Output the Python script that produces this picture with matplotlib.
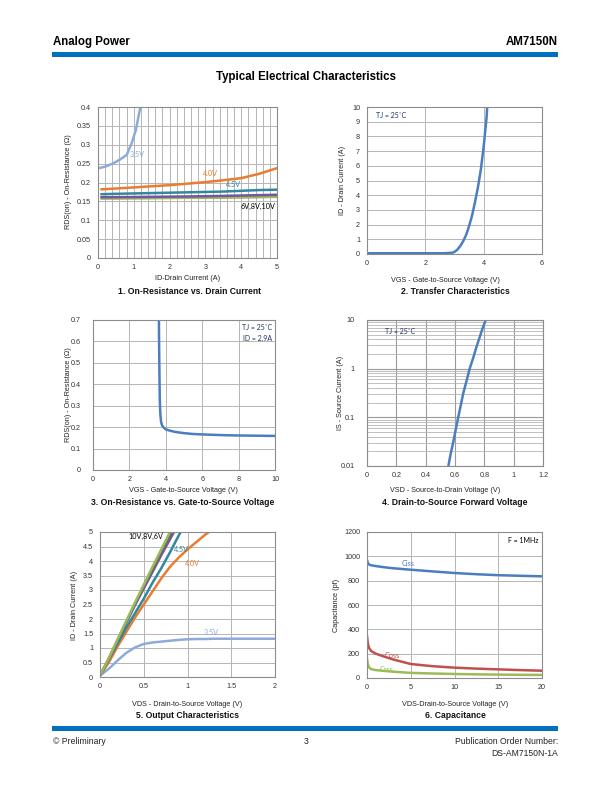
import matplotlib
matplotlib.use("Agg")
import matplotlib.pyplot as plt
from matplotlib.patches import Rectangle
from matplotlib.ticker import MultipleLocator, FixedLocator, LogLocator, NullFormatter

plt.rcParams['font.family'] = ['Liberation Sans', 'DejaVu Sans']

W, H = 612, 792
fig = plt.figure(figsize=(W / 100, H / 100), dpi=100)

BLUE = '#0070c0'
C35 = '#8eaadb'
C40 = '#e97c30'
C45 = '#31879e'
C6 = '#7356a0'
C8 = '#9bbb59'
C10 = '#a0522d'
CMAIN = '#4a7ebf'
NAVY = '#1f3864'

# ---------------- data ----------------
# 1. On-resistance vs drain current
ch1_id = [0.1, 0.5, 1, 1.5, 2, 2.5, 3, 3.5, 4, 4.5, 5]
ch1_id35 = [0.02, 0.2, 0.43, 0.6, 0.8, 0.94, 1.06, 1.15, 1.2]
ch1_r35 = [0.238, 0.242, 0.251, 0.260, 0.273, 0.304, 0.340, 0.384, 0.405]
ch1_r40 = [0.182, 0.184, 0.187, 0.190, 0.193, 0.197, 0.201, 0.206, 0.2115, 0.223, 0.238]
ch1_r45 = [0.169, 0.170, 0.171, 0.172, 0.173, 0.174, 0.175, 0.176, 0.178, 0.180, 0.181]
ch1_r6 = [0.161, 0.1612, 0.1615, 0.162, 0.1625, 0.163, 0.1637, 0.1645, 0.1655, 0.1665, 0.1675]
ch1_r8 = [0.158, 0.1582, 0.1585, 0.1588, 0.159, 0.1595, 0.160, 0.1605, 0.161, 0.1615, 0.162]
ch1_r10 = [0.157, 0.1572, 0.1575, 0.1578, 0.158, 0.1585, 0.159, 0.1595, 0.160, 0.1605, 0.161]

# 2. Transfer characteristics
ch2_vgs = [0, 1, 2, 2.6, 2.9, 3.0, 3.1, 3.2, 3.3, 3.4, 3.5, 3.6, 3.7, 3.8, 3.9, 4.0, 4.1, 4.13]
ch2_id = [0.05, 0.05, 0.05, 0.05, 0.08, 0.14, 0.3, 0.55, 0.88, 1.3, 1.9, 2.6, 3.5, 4.5, 5.7, 7.3, 9.3, 10.3]

# 3. On-resistance vs gate-to-source voltage
ch3_vgs = [3.62, 3.63, 3.65, 3.67, 3.70, 3.74, 3.8, 3.9, 4.0, 4.2, 4.5, 5, 5.5, 6, 7, 8, 9, 10]
ch3_r = [0.72, 0.60, 0.45, 0.33, 0.26, 0.225, 0.207, 0.197, 0.190, 0.184, 0.178, 0.172, 0.168, 0.166, 0.163, 0.161, 0.160, 0.159]

# 4. Drain-to-source forward voltage
ch4_vsd = [0.552, 0.57, 0.588, 0.605, 0.622, 0.64, 0.656, 0.68, 0.70, 0.725, 0.747, 0.77, 0.792, 0.81, 0.816]
ch4_is = [0.009, 0.0175, 0.031, 0.056, 0.1, 0.18, 0.31, 0.58, 1.0, 1.7, 2.83, 4.6, 7.3, 10, 11]

# 5. Output characteristics
ch5_vds = [0, 0.1, 0.2, 0.3, 0.4, 0.5, 0.6, 0.7, 0.8, 0.9, 1.0, 1.1, 1.2, 1.3, 1.5, 1.75, 2.0]
ch5_i35 = [0.05, 0.28, 0.57, 0.83, 1.02, 1.14, 1.19, 1.22, 1.25, 1.28, 1.30, 1.31, 1.31, 1.32, 1.32, 1.32, 1.32]
ch5_i40 = [0.05, 0.50, 1.05, 1.55, 2.05, 2.50, 2.95, 3.40, 3.80, 4.12, 4.40, 4.65, 4.90, 5.12, 5.5, 5.9, 6.2]
ch5_vds_hi = [0, 0.1, 0.2, 0.3, 0.4, 0.5, 0.6, 0.7, 0.8, 0.9, 1.0]
ch5_i45 = [0.05, 0.60, 1.15, 1.70, 2.20, 2.70, 3.25, 3.75, 4.30, 4.88, 5.4]
ch5_i6 = [0.05, 0.62, 1.25, 1.87, 2.48, 3.05, 3.62, 4.20, 4.75, 5.3, 5.8]
ch5_i8 = [0.05, 0.63, 1.27, 1.90, 2.52, 3.12, 3.72, 4.30, 4.87, 5.4, 5.9]
ch5_i10 = [0.05, 0.64, 1.29, 1.93, 2.57, 3.18, 3.80, 4.40, 5.00, 5.6, 6.1]

# 6. Capacitance
ch6_vds = [0, 0.1, 0.25, 0.5, 1, 2, 3, 5, 7.5, 10, 12.5, 15, 17.5, 20]
ch6_ciss = [970, 945, 932, 926, 920, 910, 902, 890, 876, 863, 853, 845, 840, 836]
ch6_coss = [345, 280, 245, 220, 200, 175, 152, 115, 97, 85, 77, 71, 65, 60]
ch6_crss = [160, 110, 85, 72, 65, 58, 52, 42, 37, 33, 30, 28, 26, 25]


# ---------------- helpers ----------------
def ax_at(l, t, r, b):
    return fig.add_axes([l / W, 1 - b / H, (r - l) / W, (b - t) / H])


def ftext(x, y, s, **kw):
    kw.setdefault('va', 'center')
    fig.text(x / W, 1 - y / H, s, **kw)


def style(ax, xlim, ylim, xmaj, ymaj, xfmt=None, yfmt=None, ypad=5):
    ax.set_xlim(*xlim)
    ax.set_ylim(*ylim)
    if xmaj is not None:
        ax.xaxis.set_major_locator(MultipleLocator(xmaj))
    if ymaj is not None:
        ax.yaxis.set_major_locator(MultipleLocator(ymaj))
    ax.tick_params(length=0, labelsize=5.2, colors='#333333')
    ax.tick_params(axis='y', pad=ypad)
    ax.tick_params(axis='x', pad=4)
    ax.grid(True, which='major', color='#b5b5b5', lw=0.7)
    ax.set_axisbelow(True)
    for s in ax.spines.values():
        s.set_color('#8c8c8c')
        s.set_linewidth(0.8)
    if xfmt:
        ax.xaxis.set_major_formatter(xfmt)
    if yfmt:
        ax.yaxis.set_major_formatter(yfmt)


def fmt_g(v, p):
    return ('%g' % round(v, 4))


LW = 1.8
cap_kw = dict(fontsize=6.2, fontweight='bold', ha='center', color='#111111')
lab_kw = dict(fontsize=5.2, ha='center', color='#222222')

# ---------------- header / footer ----------------
fig.patches.append(Rectangle((52 / W, 1 - 57 / H), (558 - 52) / W, 4.5 / H,
                             transform=fig.transFigure, color=BLUE, lw=0))
fig.patches.append(Rectangle((52 / W, 1 - 731 / H), (558 - 52) / W, 5 / H,
                             transform=fig.transFigure, color=BLUE, lw=0))
ftext(53, 42, 'Analog Power', fontsize=8.3, fontweight='bold', ha='left')
ftext(558, 42, 'AM7150N', fontsize=8.3, fontweight='bold', ha='right')
ftext(306, 77, 'Typical Electrical Characteristics', fontsize=8.3, fontweight='bold', ha='center')
ftext(53, 741, '\u00a9 Preliminary', fontsize=6.2, ha='left', color='#222222')
ftext(306, 741, '3', fontsize=6.2, ha='center', color='#222222')
ftext(558, 741, 'Publication Order Number:', fontsize=6.2, ha='right', color='#222222')
ftext(558, 753, 'DS-AM7150N-1A', fontsize=6.2, ha='right', color='#222222')

# ---------------- chart 1 ----------------
ax1 = ax_at(98, 107, 277, 258)
style(ax1, (0, 5), (0, 0.4), 1, 0.05, yfmt=fmt_g)
ax1.xaxis.set_minor_locator(MultipleLocator(0.2))
ax1.grid(True, which='minor', axis='x', color='#b5b5b5', lw=0.7)
ax1.tick_params(which='minor', length=0)
ax1.plot(ch1_id35, ch1_r35, color=C35, lw=LW, solid_capstyle='butt')
ax1.plot(ch1_id, ch1_r40, color=C40, lw=LW)
ax1.plot(ch1_id, ch1_r45, color=C45, lw=LW)
ax1.plot(ch1_id, ch1_r10, color=C10, lw=1.0)
ax1.plot(ch1_id, ch1_r8, color=C8, lw=LW)
ax1.plot(ch1_id, ch1_r6, color=C6, lw=LW)
ax1.text(0.88, 0.268, '3.5V', color=C35, fontsize=5.2, family='Lato')
ax1.text(2.92, 0.218, '4.0V', color=C40, fontsize=5.2, family='Lato')
ax1.text(3.57, 0.188, '4.5V', color=C45, fontsize=5.2, family='Lato')
ax1.text(3.97, 0.130, '6V,8V,10V', color='black', fontsize=5.2, family='Lato')
ftext(188, 278, 'ID-Drain Current (A)', **lab_kw)
ftext(68, 182, 'RDS(on) - On-Resistance (\u03a9)', rotation=90, **lab_kw)
ftext(189, 291, '1. On-Resistance vs. Drain Current', **cap_kw)

# ---------------- chart 2 ----------------
ax2 = ax_at(367, 107, 542, 254)
style(ax2, (0, 6), (0, 10), 2, 1)
ax2.plot(ch2_vgs, ch2_id, color=CMAIN, lw=LW)
ax2.text(0.3, 9.4, 'TJ = 25\u02daC', color=NAVY, fontsize=5.0, family='Lato', va='center')
ftext(445, 280, 'VGS - Gate-to-Source Voltage (V)', **lab_kw)
ftext(343, 180, 'ID - Drain Current (A)', rotation=90, **lab_kw)
ftext(455, 291, '2. Transfer Characteristics', **cap_kw)

# ---------------- chart 3 ----------------
ax3 = ax_at(93, 320, 275, 470)
style(ax3, (0, 10), (0, 0.7), 2, 0.1, yfmt=fmt_g, ypad=9)
ax3.plot(ch3_vgs, ch3_r, color=CMAIN, lw=LW)
ax3.text(9.85, 0.664, 'TJ = 25\u02daC', color=NAVY, fontsize=5.0, family='Lato', ha='right', va='center')
ax3.text(9.85, 0.614, 'ID = 2.9A', color=NAVY, fontsize=5.0, family='Lato', ha='right', va='center')
ftext(183, 491, 'VGS - Gate-to-Source Voltage (V)', **lab_kw)
ftext(68, 395, 'RDS(on) - On-Resistance (\u03a9)', rotation=90, **lab_kw)
ftext(183, 503, '3. On-Resistance vs. Gate-to-Source Voltage', **cap_kw)

# ---------------- chart 4 ----------------
ax4 = ax_at(367, 320, 543, 466)
style(ax4, (0, 1.2), (0.01, 10), 0.2, None, xfmt=fmt_g, ypad=9)
ax4.set_yscale('log')
ax4.set_ylim(0.01, 10)
ax4.yaxis.set_major_locator(FixedLocator([0.01, 0.1, 1, 10]))
ax4.yaxis.set_major_formatter(fmt_g)
ax4.yaxis.set_minor_locator(LogLocator(base=10, subs=range(2, 10)))
ax4.yaxis.set_minor_formatter(NullFormatter())
ax4.grid(True, which='major', color='#9a9a9a', lw=0.8)
ax4.grid(True, which='minor', axis='y', color='#b5b5b5', lw=0.6)
ax4.tick_params(which='both', length=0)
ax4.plot(ch4_vsd, ch4_is, color=CMAIN, lw=LW)
ax4.text(0.12, 5.8, 'TJ = 25\u02daC', color=NAVY, fontsize=5.0, family='Lato', va='center')
ftext(445, 491, 'VSD - Source-to-Drain Voltage (V)', **lab_kw)
ftext(341, 393, 'IS - Source Current (A)', rotation=90, **lab_kw)
ftext(455, 503, '4. Drain-to-Source Forward Voltage', **cap_kw)

# ---------------- chart 5 ----------------
ax5 = ax_at(100, 532, 275, 677)
style(ax5, (0, 2), (0, 5), 0.5, 0.5, xfmt=fmt_g, yfmt=fmt_g)
ax5.plot(ch5_vds, ch5_i35, color=C35, lw=LW)
ax5.plot(ch5_vds, ch5_i40, color=C40, lw=LW)
ax5.plot(ch5_vds_hi, ch5_i45, color=C45, lw=LW)
ax5.plot(ch5_vds_hi, ch5_i6, color=C6, lw=LW)
ax5.plot(ch5_vds_hi, ch5_i8, color='#6b6b6b', lw=LW)
ax5.plot(ch5_vds_hi, ch5_i10, color=C8, lw=LW)
ax5.text(0.32, 4.85, '10V,8V,6V', color='black', fontsize=5.2, family='Lato', va='center')
ax5.text(0.84, 4.40, '4.5V', color=C45, fontsize=5.2, family='Lato', va='center')
ax5.text(0.97, 3.92, '4.0V', color=C40, fontsize=5.2, family='Lato', va='center')
ax5.text(1.18, 1.52, '3.5V', color=C35, fontsize=5.2, family='Lato', va='center')
ftext(187, 704, 'VDS - Drain-to-Source Voltage (V)', **lab_kw)
ftext(75, 605, 'ID - Drain Current (A)', rotation=90, **lab_kw)
ftext(187, 715, '5. Output Characteristics', **cap_kw)

# ---------------- chart 6 ----------------
ax6 = ax_at(367, 532, 542, 678)
style(ax6, (0, 20), (0, 1200), 5, 200)
ax6.plot(ch6_vds, ch6_ciss, color=CMAIN, lw=LW)
ax6.plot(ch6_vds, ch6_coss, color='#c0504d', lw=LW)
ax6.plot(ch6_vds, ch6_crss, color=C8, lw=LW)
ax6.text(3.95, 940, 'Ciss', color=CMAIN, fontsize=5.2, family='Lato', va='center')
ax6.text(2.0, 188, 'Coss', color='#c0504d', fontsize=5.2, family='Lato', va='center')
ax6.text(1.4, 72, 'Crss', color=C8, fontsize=5.2, family='Lato', va='center')
ax6.text(19.6, 1130, 'F = 1MHz', color='black', fontsize=5.0, family='Lato', ha='right', va='center')
ftext(455, 704, 'VDS-Drain-to-Source Voltage (V)', **lab_kw)
ftext(337, 605, 'Capacitance (pf)', rotation=90, **lab_kw)
ftext(455, 715, '6. Capacitance', **cap_kw)

fig.savefig('out.png', dpi=100)
